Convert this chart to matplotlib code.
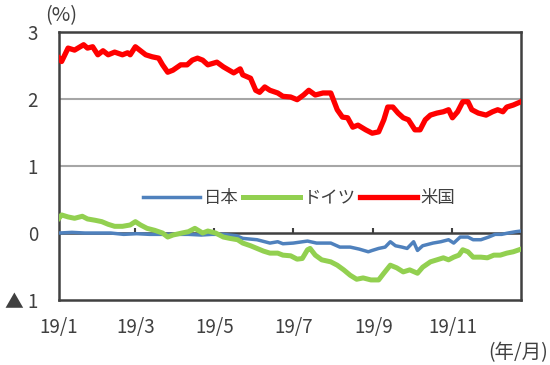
import matplotlib
matplotlib.use('Agg')
import matplotlib.pyplot as plt
import numpy as np

plt.rcParams['font.family'] = ['Noto Sans CJK JP', 'DejaVu Sans']

# days since 2019-01-01, values in %
us_days = [0, 2, 7, 12, 19, 22, 26, 30, 34, 38, 43, 49, 53, 55, 59, 63, 67, 72, 77, 80,
           84, 88, 94, 99, 103, 107, 111, 115, 122, 127, 135, 140, 142, 148, 152, 155, 159,
           163, 169, 173, 179, 184, 189, 193, 198, 204, 210, 212, 215, 219, 223, 227, 231,
           237, 242, 247, 251, 254, 258, 262, 266, 270, 275, 279, 283, 287, 292, 297, 301,
           304, 308, 312, 316, 319, 324, 330, 335, 339, 343, 346, 351, 357]
us_vals = [2.61, 2.56, 2.76, 2.73, 2.81, 2.76, 2.78, 2.66, 2.72, 2.66, 2.70, 2.66, 2.69,
           2.66, 2.78, 2.72, 2.66, 2.63, 2.61, 2.51, 2.40, 2.43, 2.51, 2.51, 2.58, 2.61,
           2.58, 2.51, 2.55, 2.48, 2.39, 2.45, 2.36, 2.31, 2.13, 2.10, 2.18, 2.13, 2.09,
           2.04, 2.03, 1.99, 2.06, 2.13, 2.06, 2.09, 2.09, 1.99, 1.84, 1.73, 1.72, 1.58,
           1.61, 1.54, 1.49, 1.51, 1.69, 1.88, 1.88, 1.79, 1.72, 1.69, 1.54, 1.54, 1.69,
           1.76, 1.79, 1.81, 1.84, 1.72, 1.81, 1.96, 1.96, 1.84, 1.79, 1.76, 1.81, 1.84,
           1.81, 1.88, 1.91, 1.96]

de_days = [0, 2, 7, 12, 18, 22, 28, 33, 38, 43, 49, 55, 59, 63, 68, 74, 80, 84, 88, 95,
           100, 105, 111, 115, 121, 127, 132, 138, 142, 148, 153, 158, 163, 169, 173, 179,
           184, 188, 192, 194, 198, 203, 210, 215, 220, 225, 230, 235, 241, 247, 251, 256,
           261, 266, 271, 277, 281, 287, 292, 297, 301, 305, 309, 312, 316, 320, 326, 331,
           336, 341, 346, 351, 357]
de_vals = [0.22, 0.27, 0.24, 0.22, 0.25, 0.21, 0.19, 0.17, 0.13, 0.10, 0.10, 0.12, 0.17,
           0.12, 0.07, 0.04, 0.00, -0.06, -0.03, 0.00, 0.02, 0.07, 0.00, 0.03, 0.00, -0.06,
           -0.08, -0.10, -0.15, -0.19, -0.23, -0.27, -0.30, -0.30, -0.33, -0.34, -0.39,
           -0.38, -0.25, -0.23, -0.33, -0.40, -0.43, -0.48, -0.55, -0.63, -0.69, -0.67,
           -0.70, -0.70, -0.60, -0.48, -0.52, -0.58, -0.55, -0.60, -0.51, -0.43, -0.40,
           -0.37, -0.40, -0.36, -0.33, -0.25, -0.28, -0.36, -0.36, -0.37, -0.33, -0.33,
           -0.30, -0.28, -0.24]

jp_days = [0, 10, 20, 30, 40, 45, 50, 60, 70, 80, 90, 100, 110, 118, 127, 137, 142, 153,
           163, 169, 173, 181, 192, 199, 210, 217, 225, 232, 239, 242, 247, 252, 256, 260,
           265, 269, 274, 277, 281, 289, 295, 301, 305, 310, 316, 320, 326, 332, 337, 342,
           347, 353, 357]
jp_vals = [0.00, 0.01, 0.00, 0.00, 0.00, -0.01, -0.02, -0.01, -0.02, -0.02, -0.02, -0.02,
           -0.03, -0.02, -0.02, -0.04, -0.08, -0.10, -0.15, -0.13, -0.16, -0.15, -0.12,
           -0.15, -0.15, -0.21, -0.21, -0.24, -0.28, -0.26, -0.23, -0.21, -0.13, -0.19,
           -0.21, -0.23, -0.13, -0.26, -0.19, -0.15, -0.13, -0.10, -0.15, -0.06, -0.06,
           -0.10, -0.10, -0.06, -0.02, -0.02, 0.00, 0.02, 0.03]

month_ticks = [0, 59, 120, 181, 243, 304]
month_labels = ['19/1', '19/3', '19/5', '19/7', '19/9', '19/11']
y_ticks = [3, 2, 1, 0, -1]
y_labels = ['3', '2', '1', '0', '▲ 1']

txt = '#404040'
fig = plt.figure(figsize=(5.5, 3.65), dpi=100)
ax = fig.add_axes([0.1073, 0.178, 0.8400, 0.7343])

ax.plot(jp_days, jp_vals, color='#4F81BD', lw=2.5, label='日本', zorder=3)
ax.plot(de_days, de_vals, color='#92D050', lw=3.6, label='ドイツ', zorder=3)
ax.plot(us_days, us_vals, color='#FF0000', lw=3.8, label='米国', zorder=3)

ax.set_xlim(0, 357)
ax.set_ylim(-1, 3)

# grid lines and zero line with month ticks
for g in [1, 2]:
    ax.axhline(g, color='#A6A6A6', lw=1.5, zorder=1)
ax.axhline(0, color='#404040', lw=1.8, zorder=2)
ax.vlines(month_ticks[1:], 0, 0.075, color='#404040', lw=1.5, zorder=2)

for s in ax.spines.values():
    s.set_color('#404040')
    s.set_linewidth(1.8)

ax.set_xticks(month_ticks)
ax.set_xticklabels(month_labels)
ax.set_yticks(y_ticks)
ax.set_yticklabels(y_labels)
ax.tick_params(axis='x', length=0, pad=12, labelsize=13.5, labelcolor=txt)
ax.tick_params(axis='y', length=0, pad=15, labelsize=13.5, labelcolor=txt)

fig.text(0.111, 0.958, '(%)', ha='center', va='center', fontsize=14.5, color=txt)
fig.text(0.997, 0.035, '(年/月)', ha='right', va='center', fontsize=14, color=txt)

leg = ax.legend(loc='center', bbox_to_anchor=(0.52, 0.38), ncol=3, frameon=False,
                fontsize=12.5, handlelength=3.3, handletextpad=0.2, columnspacing=0.25,
                borderaxespad=0)
for t in leg.get_texts():
    t.set_color(txt)

fig.savefig('out.png', dpi=100)
